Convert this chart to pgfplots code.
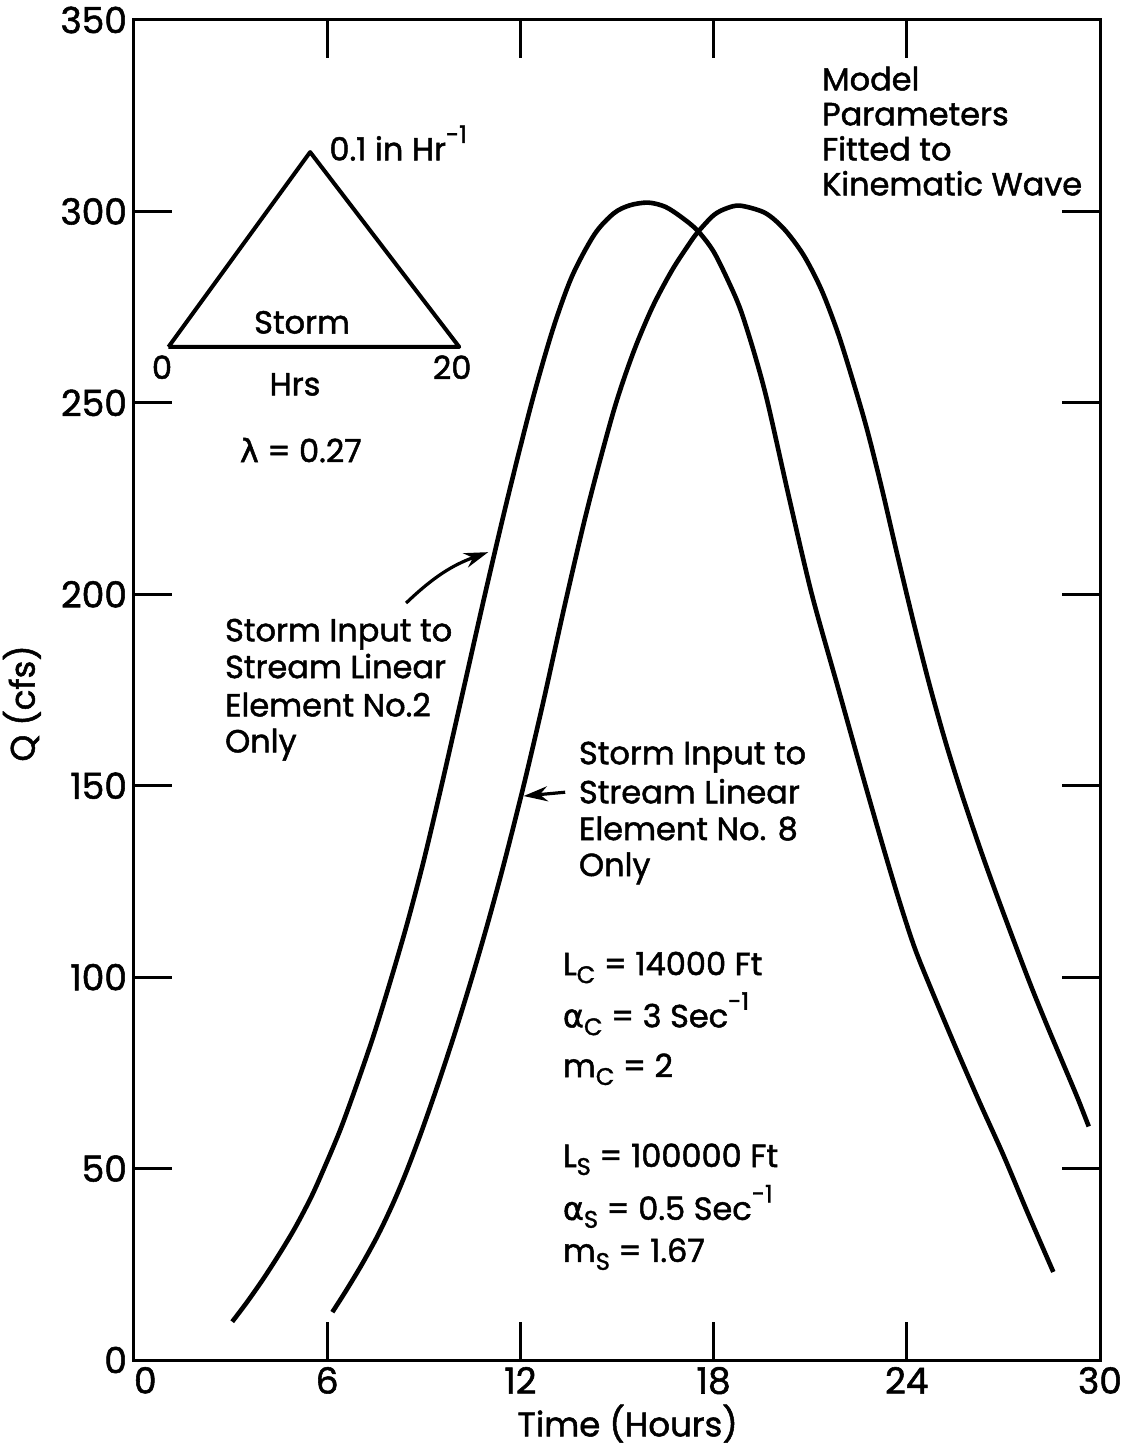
\documentclass[border=0pt]{standalone}
\usepackage{pgfplots}
\pgfplotsset{compat=1.18}
\usepackage{fontspec}
\setmainfont{Poppins}[FakeBold=1.5]
\newfontfamily\grk{DejaVu Sans}[FakeBold=1.5]
\usetikzlibrary{arrows.meta}
\newcommand\ann{\fontsize{16}{19}\selectfont}
\newcommand\subx[1]{\raisebox{-0.45ex}{\fontsize{12}{12}\selectfont #1}}
\newcommand\supx[1]{\raisebox{1.0ex}{\fontsize{12}{12}\selectfont #1}}

\pgfplotstableread{
x y
3.05 10
3.5 15
4.0 21
4.5 27.5
5.0 34.5
5.5 42.5
5.9 50
6.4 60
6.9 71.5
7.45 85
8.0 100
8.5 114.5
9.0 130.5
9.55 150
10.2 174
10.9 200
11.6 225
12.35 250
13.0 269
13.6 283
14.3 294
14.9 299.5
15.4 301.6
15.97 302.3
16.5 301.2
17.0 298.5
17.5 295
18.0 289.5
18.5 281
18.85 274
19.28 262.5
19.68 250
20.35 225
21.05 200
21.85 176
22.65 152
23.3 133
23.8 119
24.25 107.5
24.75 97
25.5 82
26.25 67.5
27.0 53.5
27.75 38.5
28.55 23
}\elemtwo

\pgfplotstableread{
x y
6.16 12.5
6.6 18.3
7.1 25.3
7.6 33
8.05 41
8.45 49
8.9 59
9.4 71
9.95 85
10.5 100
11.0 114.5
11.5 130
12.1 150
12.7 171.5
13.4 198
14.1 223
14.9 248
15.5 263
16.1 275
16.7 284.5
17.2 291
17.5 294.5
18.0 299
18.4 300.8
18.83 301.5
19.6 299.6
20.2 295.3
20.8 288.5
21.35 279.5
21.85 268.5
22.3 256.5
22.75 243.5
23.2 228.5
23.7 210.5
24.2 193
24.7 176.5
25.2 161.5
25.7 148
26.3 133
26.9 119
27.75 100
28.3 88.5
28.8 78.5
29.3 68.5
29.65 61
}\elemeight

\begin{document}
\begin{tikzpicture}
\begin{axis}[
  name=ax,
  scale only axis,
  width=483pt, height=670pt,
  xmin=0, xmax=30, ymin=0, ymax=350,
  xtick={0,6,...,30}, ytick={0,50,...,350},
  xticklabels={{\hphantom{0}0},6,12,18,24,30},
  tick align=inside,
  major tick length=19pt,
  tick style={black, line width=1.4pt},
  axis line style={line width=1.5pt},
  tick label style={font=\fontsize{18}{20}\selectfont},
  /pgf/number format/assume math mode=true,
  xlabel={Time (Hours)},
  ylabel={Q (cfs)},
  label style={font=\fontsize{17}{20}\selectfont},
  xlabel style={at={(axis description cs:0.511,-0.0475)}, anchor=center},
  ylabel style={at={(axis description cs:-0.116,0.49)}, anchor=center},
  clip=false,
]
\addplot[black, line width=2.3pt, smooth, tension=0.5] table {\elemtwo};
\addplot[black, line width=2.3pt, smooth, tension=0.5] table {\elemeight};

% storm inset
\addplot[black, line width=2pt, line join=round] coordinates {(1.07,264.6) (5.47,315.5) (10.1,264.6) (1.07,264.6)};
\node[anchor=base west, font=\ann] at (axis cs:5.85,313.3) {0.1 in Hr\supx{-1}};
\node[anchor=base, font=\ann] at (axis cs:5.22,268.1) {Storm};
\node[font=\ann] at (axis cs:0.87,259.3) {0};
\node[font=\ann] at (axis cs:9.88,259.3) {20};
\node[font=\ann] at (axis cs:5.0,254.8) {Hrs};
\node[anchor=base west, font=\ann] at (axis cs:3.07,234.5) {{\grk λ} = 0.27};

% model note
\node[anchor=base west, font=\ann] at (axis cs:21.15,331.6) {Model};
\node[anchor=base west, font=\ann] at (axis cs:21.15,322.5) {Parameters};
\node[anchor=base west, font=\ann] at (axis cs:21.15,313.3) {Fitted to};
\node[anchor=base west, font=\ann] at (axis cs:21.15,304.2) {Kinematic Wave};

% element 2
\node[anchor=base west, font=\ann] at (axis cs:2.61,187.7) {Storm Input to};
\node[anchor=base west, font=\ann] at (axis cs:2.61,178.1) {Stream Linear};
\node[anchor=base west, font=\ann] at (axis cs:2.61,168.1) {Element No.2};
\node[anchor=base west, font=\ann] at (axis cs:2.61,158.7) {Only};
\draw[line width=1.6pt, -{Stealth[length=12pt,width=7.5pt]}] (axis cs:8.45,197.7) to[bend left=12] (axis cs:11.0,211);

% element 8
\node[anchor=base west, font=\ann] at (axis cs:13.6,155.6) {Storm Input to};
\node[anchor=base west, font=\ann] at (axis cs:13.6,145.4) {Stream Linear};
\node[anchor=base west, font=\ann] at (axis cs:13.6,135.8) {Element No. 8};
\node[anchor=base west, font=\ann] at (axis cs:13.6,126.4) {Only};
\draw[line width=1.6pt, -{Stealth[length=12pt,width=7.5pt]}] (axis cs:13.39,148.3) -- (axis cs:12.1,147.3);

% parameters
\node[anchor=base west, font=\ann] at (axis cs:13.1,100.5) {L\subx{C} = 14000 Ft};
\node[anchor=base west, font=\ann] at (axis cs:13.1,86.9) {{\grk α}\subx{C} = 3 Sec\supx{-1}};
\node[anchor=base west, font=\ann] at (axis cs:13.1,73.9) {m\subx{C} = 2};
\node[anchor=base west, font=\ann] at (axis cs:13.1,50.4) {L\subx{S} = 100000 Ft};
\node[anchor=base west, font=\ann] at (axis cs:13.1,36.6) {{\grk α}\subx{S} = 0.5 Sec\supx{-1}};
\node[anchor=base west, font=\ann] at (axis cs:13.1,25.6) {m\subx{S} = 1.67};
\end{axis}
\pgfresetboundingbox
\path[use as bounding box] ([xshift=-67pt,yshift=-43.5pt]ax.south west) rectangle ([xshift=12.5pt,yshift=10pt]ax.north east);
\end{tikzpicture}
\end{document}
